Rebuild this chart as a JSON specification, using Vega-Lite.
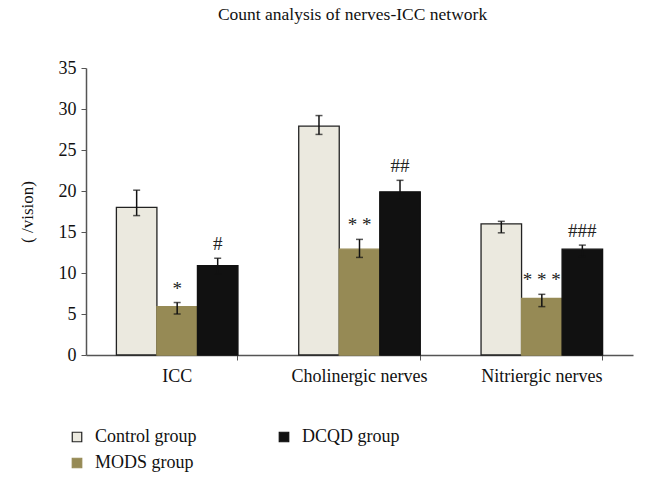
{
  "$schema": "https://vega.github.io/schema/vega-lite/v6.json",
  "autosize": "none",
  "width": 547,
  "height": 287,
  "padding": {"left": 86, "top": 68, "right": 14, "bottom": 138},
  "background": "white",
  "config": {
    "font": "'Liberation Serif', 'DejaVu Serif', serif",
    "view": {"stroke": null},
    "text": {"font": "'Liberation Serif', 'DejaVu Serif', serif"},
    "legend": {"labelFont": "'Liberation Serif', 'DejaVu Serif', serif"},
    "axis": {"labelFont": "'Liberation Serif', 'DejaVu Serif', serif", "titleFont": "'Liberation Serif', 'DejaVu Serif', serif", "domainColor": "#555", "tickColor": "#555", "labelColor": "#111", "titleColor": "#111", "grid": false}
  },
  "title": {"text": "Count analysis of nerves-ICC network", "fontSize": 17.5, "font": "'Liberation Serif', 'DejaVu Serif', serif", "fontWeight": "normal", "color": "#111", "offset": 36, "dx": -7},
  "data": {
    "values": [
      {"cat": "ICC", "group": "Control group", "value": 18, "lower": 17.0, "upper": 20.1, "mark": ""},
      {"cat": "ICC", "group": "MODS group", "value": 5.9, "lower": 5.0, "upper": 6.4, "mark": "*"},
      {"cat": "ICC", "group": "DCQD group", "value": 10.9, "lower": 9.9, "upper": 11.8, "mark": "#"},
      {"cat": "Cholinergic nerves", "group": "Control group", "value": 27.9, "lower": 26.9, "upper": 29.2, "mark": ""},
      {"cat": "Cholinergic nerves", "group": "MODS group", "value": 12.9, "lower": 11.9, "upper": 14.1, "mark": "* *"},
      {"cat": "Cholinergic nerves", "group": "DCQD group", "value": 19.9, "lower": 19.0, "upper": 21.3, "mark": "##"},
      {"cat": "Nitriergic nerves", "group": "Control group", "value": 16.0, "lower": 14.9, "upper": 16.3, "mark": ""},
      {"cat": "Nitriergic nerves", "group": "MODS group", "value": 6.9, "lower": 5.9, "upper": 7.4, "mark": "* * *"},
      {"cat": "Nitriergic nerves", "group": "DCQD group", "value": 12.9, "lower": 12.0, "upper": 13.4, "mark": "###"}
    ]
  },
  "encoding": {
    "x": {"field": "cat", "type": "nominal", "sort": ["ICC", "Cholinergic nerves", "Nitriergic nerves"],
      "scale": {"paddingInner": 0.3333, "paddingOuter": 0.1667},
      "axis": {"title": null, "labelAngle": 0, "labelFontSize": 18, "labelPadding": 7, "tickSize": 5, "bandPosition": 1, "domainWidth": 1.5}},
    "xOffset": {"field": "group", "type": "nominal", "sort": ["Control group", "MODS group", "DCQD group"], "scale": {"paddingInner": 0, "paddingOuter": 0}}
  },
  "layer": [
    {
      "mark": {"type": "bar", "strokeWidth": 1.3},
      "encoding": {
        "y": {"field": "value", "type": "quantitative", "scale": {"domain": [0, 35]},
          "axis": {"title": "( /vision)", "titleFontSize": 17, "titleFontWeight": "normal", "titlePadding": 22, "labelFontSize": 18, "labelPadding": 5, "tickSize": 5, "values": [0,5,10,15,20,25,30,35], "domainWidth": 1.5}},
        "fill": {"field": "group", "type": "nominal",
          "scale": {"domain": ["Control group", "MODS group", "DCQD group"], "range": ["#ebe9df", "#968a55", "#111111"]},
          "legend": {"title": null, "orient": "none", "legendX": -18, "legendY": 360, "columns": 2, "symbolType": "square", "symbolSize": 90, "labelFontSize": 18, "labelColor": "#111", "labelOffset": 9, "columnPadding": 78, "rowPadding": 8, "symbolStrokeWidth": 1.2}},
        "stroke": {"field": "group", "type": "nominal",
          "scale": {"domain": ["Control group", "MODS group", "DCQD group"], "range": ["#222222", "#968a55", "#111111"]}}
      }
    },
    {
      "mark": {"type": "rule", "color": "#111", "strokeWidth": 1.5},
      "encoding": {"y": {"field": "lower", "type": "quantitative"}, "y2": {"field": "upper"}}
    },
    {
      "mark": {"type": "tick", "color": "#111", "thickness": 1.5, "size": 7, "orient": "horizontal"},
      "encoding": {"y": {"field": "lower", "type": "quantitative"}}
    },
    {
      "mark": {"type": "tick", "color": "#111", "thickness": 1.5, "size": 7, "orient": "horizontal"},
      "encoding": {"y": {"field": "upper", "type": "quantitative"}}
    },
    {
      "mark": {"type": "text", "fontSize": 19, "color": "#222", "baseline": "middle", "dy": -14},
      "encoding": {"y": {"field": "upper", "type": "quantitative"}, "text": {"field": "mark"}}
    }
  ]
}
